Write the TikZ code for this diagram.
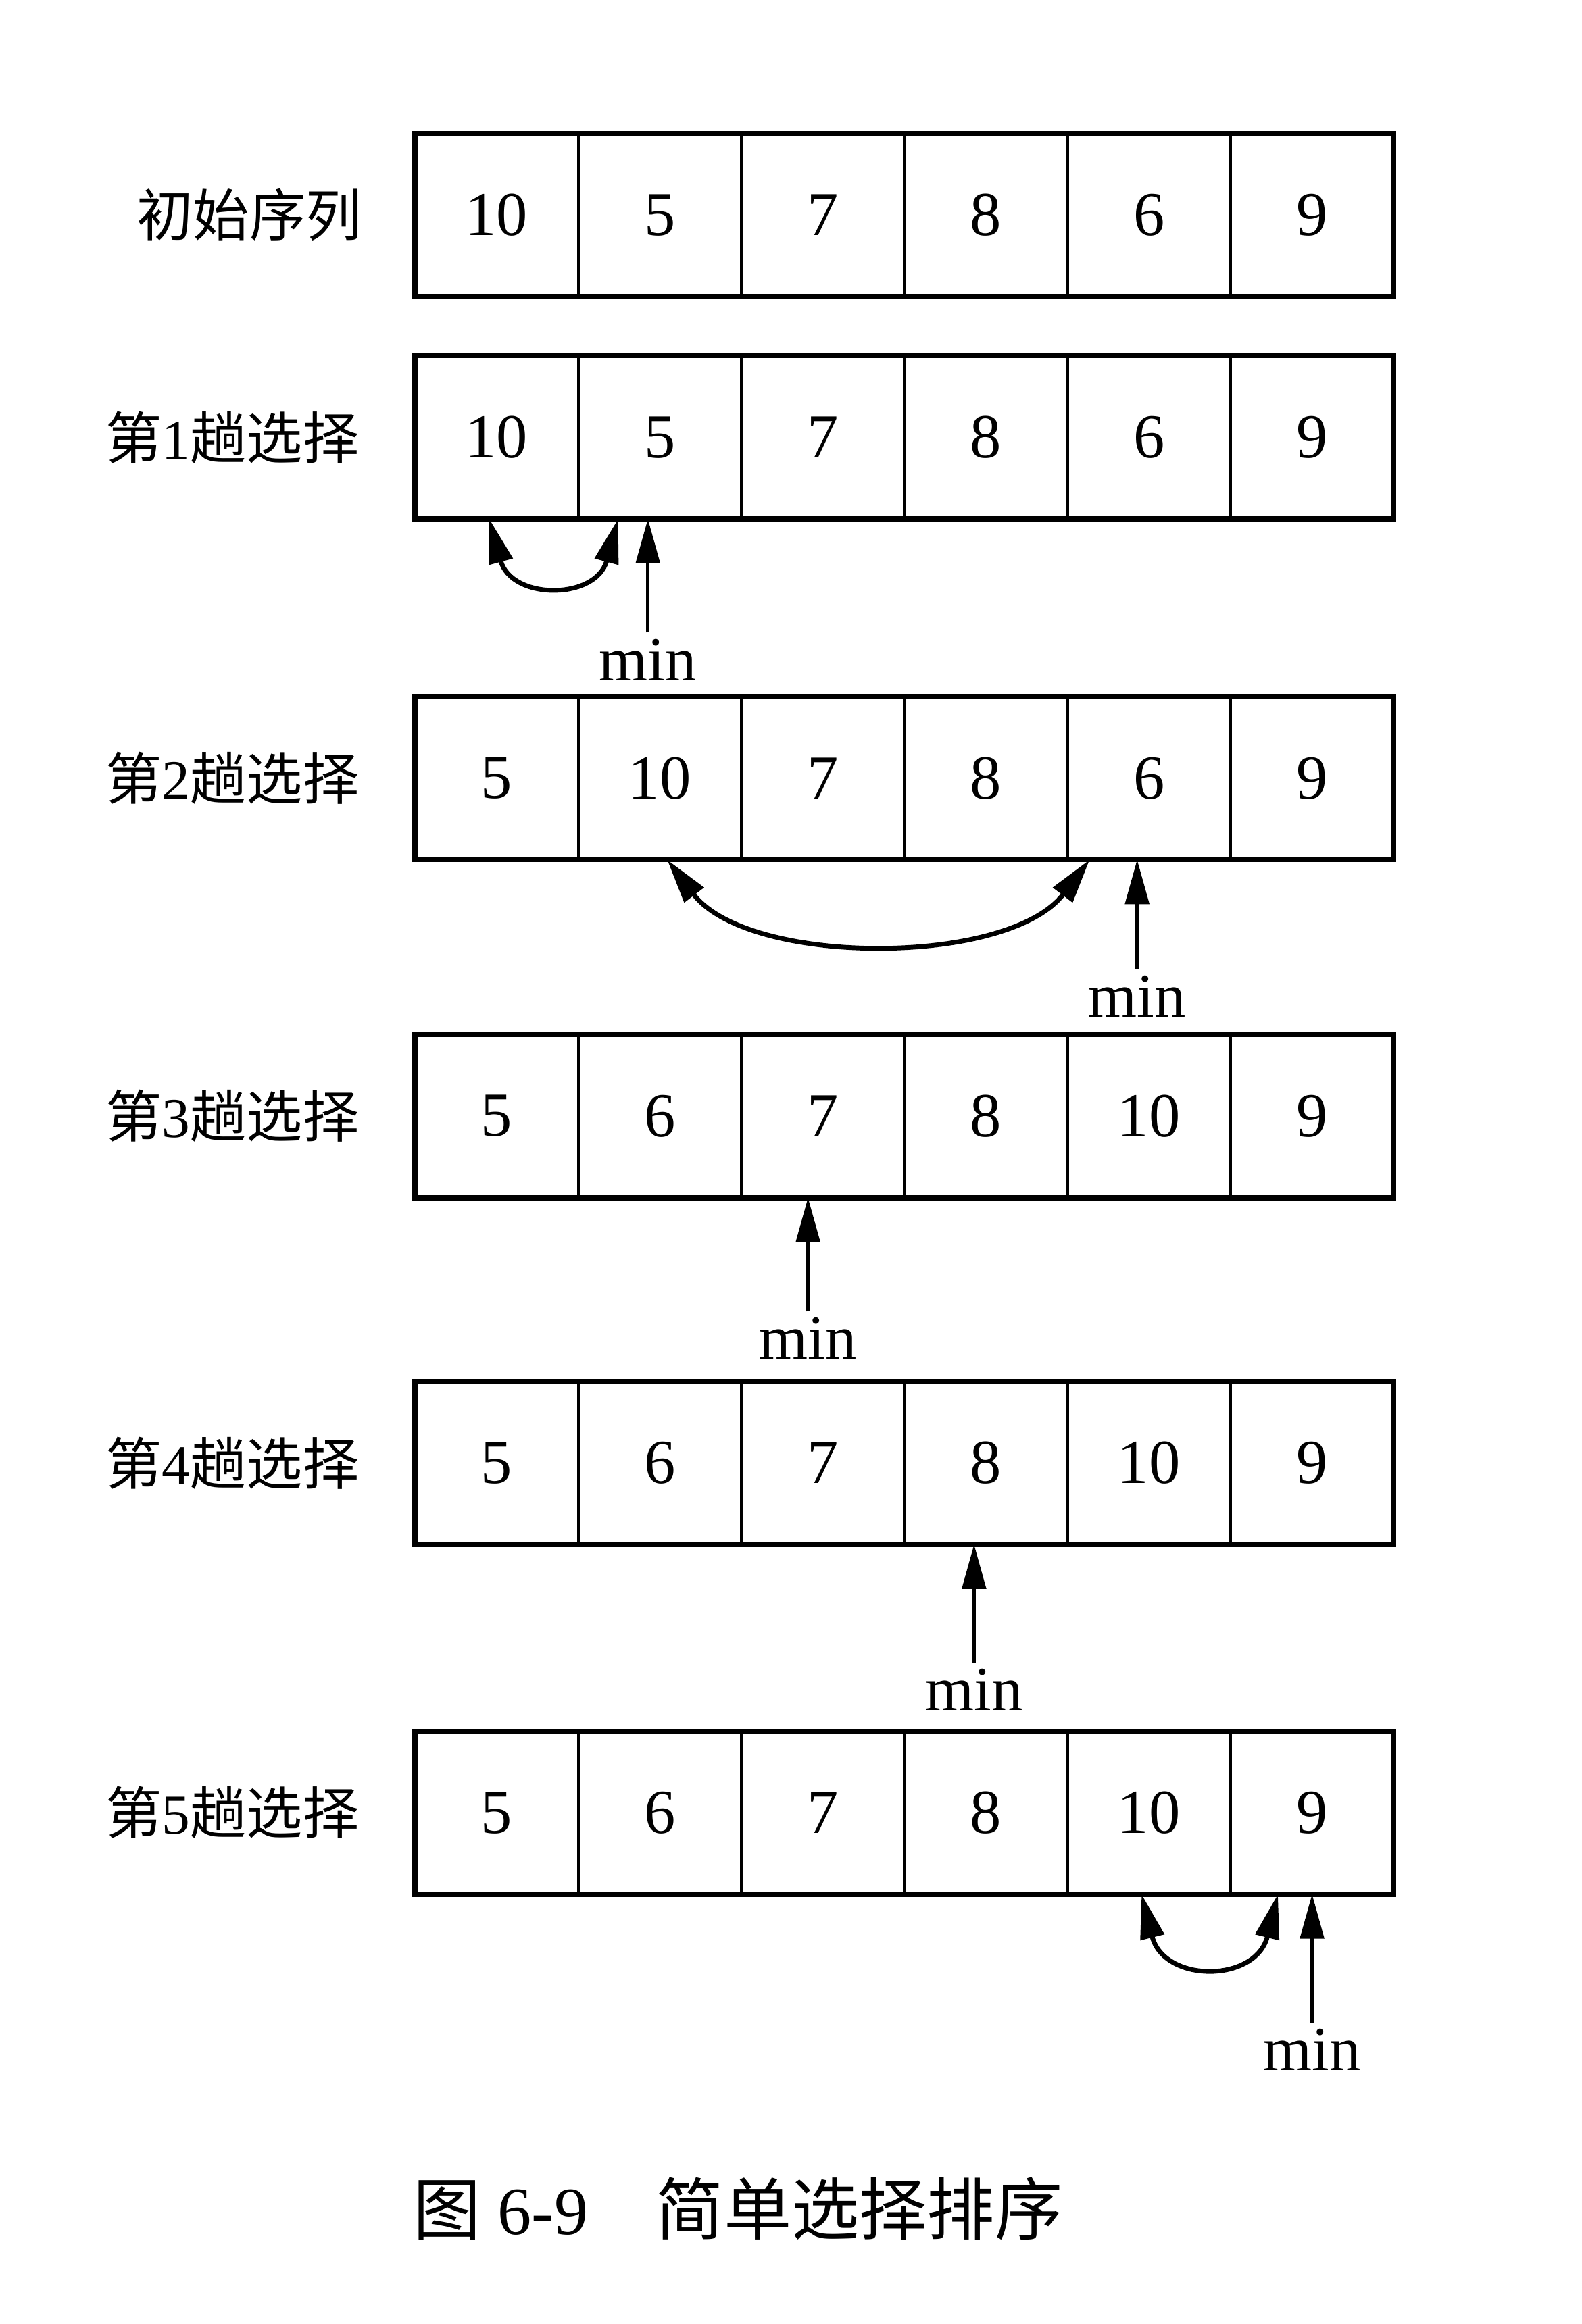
\documentclass[tikz,border=0pt]{standalone}
\usepackage{fontspec}
\setmainfont{Liberation Serif}
\newfontfamily\cjk{Noto Sans CJK SC}
\usetikzlibrary{arrows.meta,calc}
\newcommand\mkrow[3]{%
  \foreach \v [count=\i] in {#3} {
    \node[cell] (#1c\i) at (280+55+110*\i-110, #2+55) {\v};
  }
  \draw[frame] (#1c1.north west) rectangle (#1c6.south east);
}
\begin{document}
\begin{tikzpicture}[x=0.01cm,y=-0.01cm,
  cell/.style={draw, line width=0.5pt, minimum width=1.1cm, minimum height=1.1cm,
    inner sep=0pt, outer sep=0pt, font=\fontsize{12}{12}\selectfont},
  rowlabel/.style={anchor=east, inner sep=0pt, font=\fontsize{10.8}{12}\selectfont},
  minlabel/.style={inner sep=1pt, font=\fontsize{12}{12}\selectfont},
  minarrow/.style={-{Triangle[length=0.3cm,width=0.16cm]}, line width=0.7pt},
  swaparrow/.style={{Triangle[length=0.3cm,width=0.16cm]}-{Triangle[length=0.3cm,width=0.16cm]}, line width=0.9pt},
  frame/.style={draw, line width=1pt}]
\useasboundingbox (0,0) rectangle (1067,1568);

\mkrow{r0}{90}{10,5,7,8,6,9}
\mkrow{r1}{240}{10,5,7,8,6,9}
\mkrow{r2}{470}{5,10,7,8,6,9}
\mkrow{r3}{698}{5,6,7,8,10,9}
\mkrow{r4}{932}{5,6,7,8,10,9}
\mkrow{r5}{1168}{5,6,7,8,10,9}

% row labels
\node[rowlabel] (l0) at ($(r0c1.west)+(-35,0)$) {\cjk 初始序列};
\node[rowlabel] (l1) at ($(r1c1.west)+(-37,0)$) {{\cjk 第}1{\cjk 趟选择}};
\node[rowlabel] (l2) at ($(r2c1.west)+(-37,0)$) {{\cjk 第}2{\cjk 趟选择}};
\node[rowlabel] (l3) at ($(r3c1.west)+(-37,0)$) {{\cjk 第}3{\cjk 趟选择}};
\node[rowlabel] (l4) at ($(r4c1.west)+(-37,0)$) {{\cjk 第}4{\cjk 趟选择}};
\node[rowlabel] (l5) at ($(r5c1.west)+(-37,0)$) {{\cjk 第}5{\cjk 趟选择}};

% min labels and arrows
\node[minlabel] (m1) at ($(r1c2.south)+(-8,95)$) {min};
\node[minlabel] (m2) at ($(r2c5.south)+(-8,92)$) {min};
\node[minlabel] (m3) at ($(r3c3.south)+(-10,95)$) {min};
\node[minlabel] (m4) at ($(r4c4.south)+(-8,98)$) {min};
\node[minlabel] (m5) at ($(r5c6.south)+(0,105)$) {min};
\draw[minarrow] (m1.north) -- (m1.north |- r1c2.south);
\draw[minarrow] (m2.north) -- (m2.north |- r2c5.south);
\draw[minarrow] (m3.north) -- (m3.north |- r3c3.south);
\draw[minarrow] (m4.north) -- (m4.north |- r4c4.south);
\draw[minarrow] (m5.north) -- (m5.north |- r5c6.south);

% swap arrows
\draw[swaparrow] ($(r1c1.south)+(-5,0)$) .. controls +(15,55) and +(-15,55) .. ($(r1c2.south west)+(27,0)$);
\draw[swaparrow] ($(r2c2.south)+(5,0)$) .. controls +(55,72) and +(-55,72) .. ($(r2c5.south west)+(15,0)$);
\draw[swaparrow] ($(r5c5.south)+(-5,0)$) .. controls +(15,60) and +(-15,60) .. ($(r5c6.south west)+(32,0)$);

% caption
\node[anchor=west, inner sep=0pt, font=\fontsize{13}{14}\selectfont] (cap) at (278,1490)
  {{\cjk 图} 6-9\hspace{1em}{\cjk 简单选择排序}};
\end{tikzpicture}
\end{document}
